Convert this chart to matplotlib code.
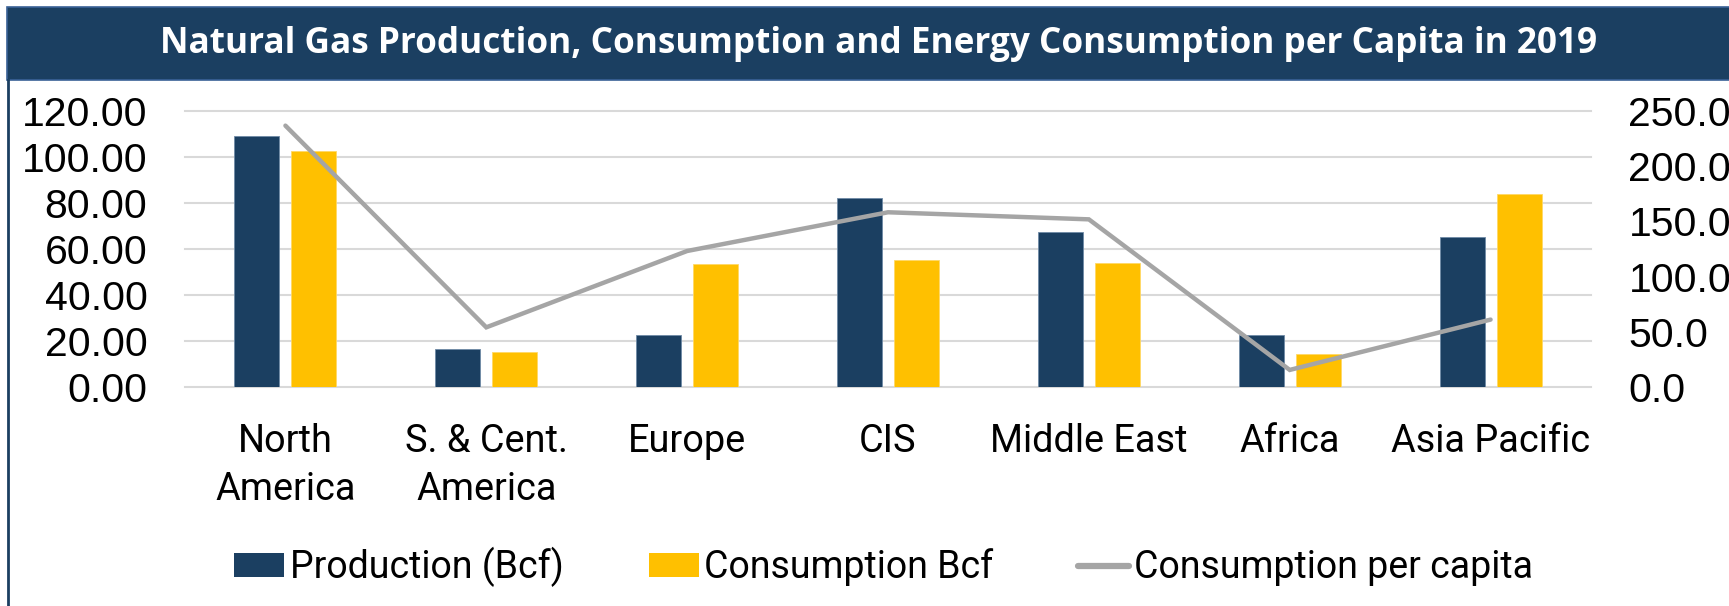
import matplotlib
matplotlib.use("Agg")
import matplotlib.pyplot as plt
from matplotlib.patches import Rectangle, Patch
from matplotlib.lines import Line2D
from matplotlib.ticker import FormatStrFormatter
import numpy as np

categories = ["North\nAmerica", "S. & Cent.\nAmerica", "Europe", "CIS", "Middle East", "Africa", "Asia Pacific"]
production_bcf = [109.2, 16.5, 22.6, 82.0, 67.2, 22.7, 65.1]
consumption_bcf = [102.4, 15.4, 53.5, 55.4, 53.9, 14.3, 84.0]
consumption_per_capita = [236.5, 54.2, 123.2, 158.2, 151.8, 15.7, 61.2]
left_ticks = [0, 20, 40, 60, 80, 100, 120]
right_ticks = [0, 50, 100, 150, 200, 250]

title = "Natural Gas Production, Consumption and Energy Consumption per Capita in 2019"

NAVY = "#1B3F61"
GOLD = "#FFC000"
GREY = "#A5A5A5"
GRID = "#D9D9D9"

W, H = 1729, 606
fig = plt.figure(figsize=(W / 100, H / 100), dpi=100)
fig.patch.set_facecolor("white")

# frame / title band
fig.add_artist(Rectangle((7 / W, 1 - 80 / H), 1.0, 73 / H, transform=fig.transFigure,
                         facecolor=NAVY, edgecolor="#3A6196", linewidth=1.2, zorder=0))
fig.add_artist(Line2D([8 / W, 8 / W], [0, 1 - 80 / H], transform=fig.transFigure,
                      color=NAVY, linewidth=2.0))
t = fig.text(0.508, 1 - 44 / H, title, ha="center", va="center", color="white",
             fontsize=24, fontweight="bold", family=["Open Sans", "DejaVu Sans"])
fig.canvas.draw()
bb = t.get_window_extent()
t.set_fontsize(24 * 1441 / bb.width)

ax = fig.add_axes([185 / W, 1 - 387.3 / H, (1591 - 185) / W, (387.3 - 110.7) / H])
x = np.arange(len(categories))
bw = 0.224
off = 0.142
ax.bar(x - off, production_bcf, bw, color=NAVY, edgecolor="#6F8AA6", linewidth=0.6,
       label="Production (Bcf)", zorder=2)
ax.bar(x + off, consumption_bcf, bw, color=GOLD, edgecolor="#FFD966", linewidth=0.6,
       label="Consumption Bcf", zorder=2)
ax.set_xlim(-0.5, len(categories) - 0.5)
ax.set_ylim(0, 120)
ax.set_yticks(left_ticks)
ax.yaxis.set_major_formatter(FormatStrFormatter("%.2f"))
ax.grid(axis="y", color=GRID, linewidth=1.5, zorder=0)
ax.set_axisbelow(True)
for gl in ax.get_ygridlines():
    gl.set_clip_on(False)
for s in ax.spines.values():
    s.set_visible(False)
ax.set_xticks(x)
ax.set_xticklabels(categories, family=["Roboto", "DejaVu Sans"], fontsize=27.3, linespacing=1.38)
ax.tick_params(axis="x", length=0, pad=26)
ax.tick_params(axis="y", length=0, pad=27, labelsize=29.5)
for lb in ax.get_yticklabels():
    lb.set_family(["Liberation Sans", "DejaVu Sans"])

ax2 = ax.twinx()
ax2.plot(x, consumption_per_capita, color=GREY, linewidth=3.2, solid_capstyle="round",
         solid_joinstyle="miter", label="Consumption per capita", zorder=3)
ax2.set_ylim(0, 250)
ax2.set_yticks(right_ticks)
ax2.yaxis.set_major_formatter(FormatStrFormatter("%.1f"))
ax2.tick_params(axis="y", length=0, pad=27, labelsize=29.5)
for lb in ax2.get_yticklabels():
    lb.set_family(["Liberation Sans", "DejaVu Sans"])
for s in ax2.spines.values():
    s.set_visible(False)

handles = [Patch(facecolor=NAVY, label="Production (Bcf)"),
           Patch(facecolor=GOLD, label="Consumption Bcf"),
           Line2D([0], [0], color=GREY, linewidth=4.5, solid_capstyle="round", label="Consumption per capita")]
fig.legend(handles=handles, loc="center", bbox_to_anchor=(0.511, 1 - 567 / H), ncol=3,
           frameon=False, prop={"family": ["Roboto", "DejaVu Sans"], "size": 27},
           handlelength=1.34, handleheight=0.58, handletextpad=0.14, columnspacing=2.27,
           borderpad=0, borderaxespad=0)

fig.savefig("out.png", dpi=100, facecolor="white")
